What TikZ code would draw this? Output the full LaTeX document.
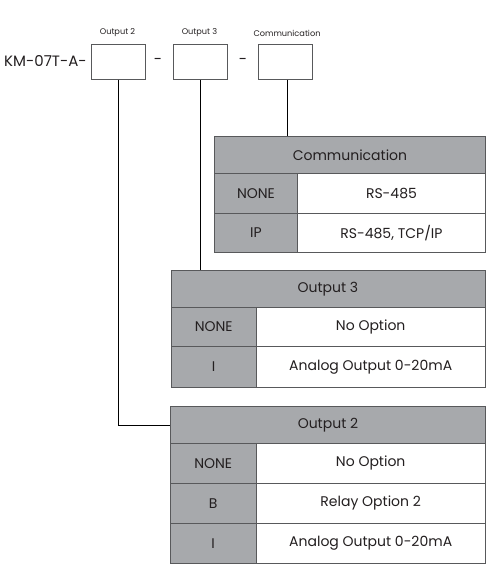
\documentclass[tikz,border=0pt]{standalone}
\usepackage{fontspec}
\setmainfont{Poppins}
\definecolor{cellgray}{HTML}{A7A9AC}
\definecolor{bordergray}{HTML}{58595B}
\definecolor{txt}{HTML}{231F20}
\begin{document}
\begin{tikzpicture}[x=1pt,y=-1pt,
  cell/.style={draw=bordergray, line width=0.9pt, inner sep=0pt, anchor=north west, text=txt, font=\fontsize{14}{16}\selectfont},
  graycell/.style={cell, fill=cellgray},
  whitecell/.style={cell, fill=white},
  codebox/.style={draw=bordergray, line width=0.9pt, anchor=north west, minimum width=54pt, minimum height=35pt, inner sep=0pt},
  toplabel/.style={text=txt, font=\fontsize{8.2}{9}\selectfont, inner sep=0pt},
  link/.style={draw=black, line width=0.8pt}
]
\useasboundingbox (0,0) rectangle (501,574);

% part number line
\node[anchor=west, text=txt, font=\fontsize{15}{17}\selectfont, inner sep=0pt] (pn) at (4,61) {KM-07T-A-};
\node[codebox] (b1) at (90.5,44) {};
\node[codebox] (b2) at (172.5,44) {};
\node[codebox] (b3) at (257.5,44) {};
\node[text=txt, font=\fontsize{15}{17}\selectfont, inner sep=0pt] (d1) at (158,61) {-};
\node[text=txt, font=\fontsize{15}{17}\selectfont, inner sep=0pt] (d2) at (243,61) {-};
\node[toplabel] (l1) at (117.5,33) {Output 2};
\node[toplabel] (l2) at (199.5,33) {Output 3};
\node[toplabel] (l3) at (287,33) {Communication};

% Communication table
\node[graycell, minimum width=271pt, minimum height=37pt] (ch) at (214,136) {Communication};
\node[graycell, minimum width=83pt, minimum height=39.5pt] (c1k) at (214,173) {NONE};
\node[whitecell, minimum width=188pt, minimum height=39.5pt] (c1v) at (297,173) {RS-485};
\node[graycell, minimum width=83pt, minimum height=39.5pt] (c2k) at (214,212.5) {IP};
\node[whitecell, minimum width=188pt, minimum height=39.5pt] (c2v) at (297,212.5) {RS-485, TCP/IP};

% Output 3 table
\node[graycell, minimum width=314pt, minimum height=37pt] (o3h) at (170.5,270) {Output 3};
\node[graycell, minimum width=85.5pt, minimum height=39pt] (o31k) at (170.5,307) {NONE};
\node[whitecell, minimum width=228.5pt, minimum height=39pt] (o31v) at (256,307) {No Option};
\node[graycell, minimum width=85.5pt, minimum height=41pt] (o32k) at (170.5,346) {I};
\node[whitecell, minimum width=228.5pt, minimum height=41pt] (o32v) at (256,346) {Analog Output 0-20mA};

% Output 2 table
\node[graycell, minimum width=315pt, minimum height=37pt] (o2h) at (170,406) {Output 2};
\node[graycell, minimum width=85.5pt, minimum height=39.5pt] (o21k) at (170,443) {NONE};
\node[whitecell, minimum width=229.5pt, minimum height=39.5pt] (o21v) at (255.5,443) {No Option};
\node[graycell, minimum width=85.5pt, minimum height=40.5pt] (o22k) at (170,482.5) {B};
\node[whitecell, minimum width=229.5pt, minimum height=40.5pt] (o22v) at (255.5,482.5) {Relay Option 2};
\node[graycell, minimum width=85.5pt, minimum height=40pt] (o23k) at (170,523) {I};
\node[whitecell, minimum width=229.5pt, minimum height=40pt] (o23v) at (255.5,523) {Analog Output 0-20mA};

% connectors
\draw[link] (b1.south) |- (o2h.west);
\draw[link] (b2.south) -- (b2.south |- o3h.north);
\draw[link] ([xshift=2pt]b3.south) -- ([xshift=2pt]b3.south |- ch.north);
\end{tikzpicture}
\end{document}
